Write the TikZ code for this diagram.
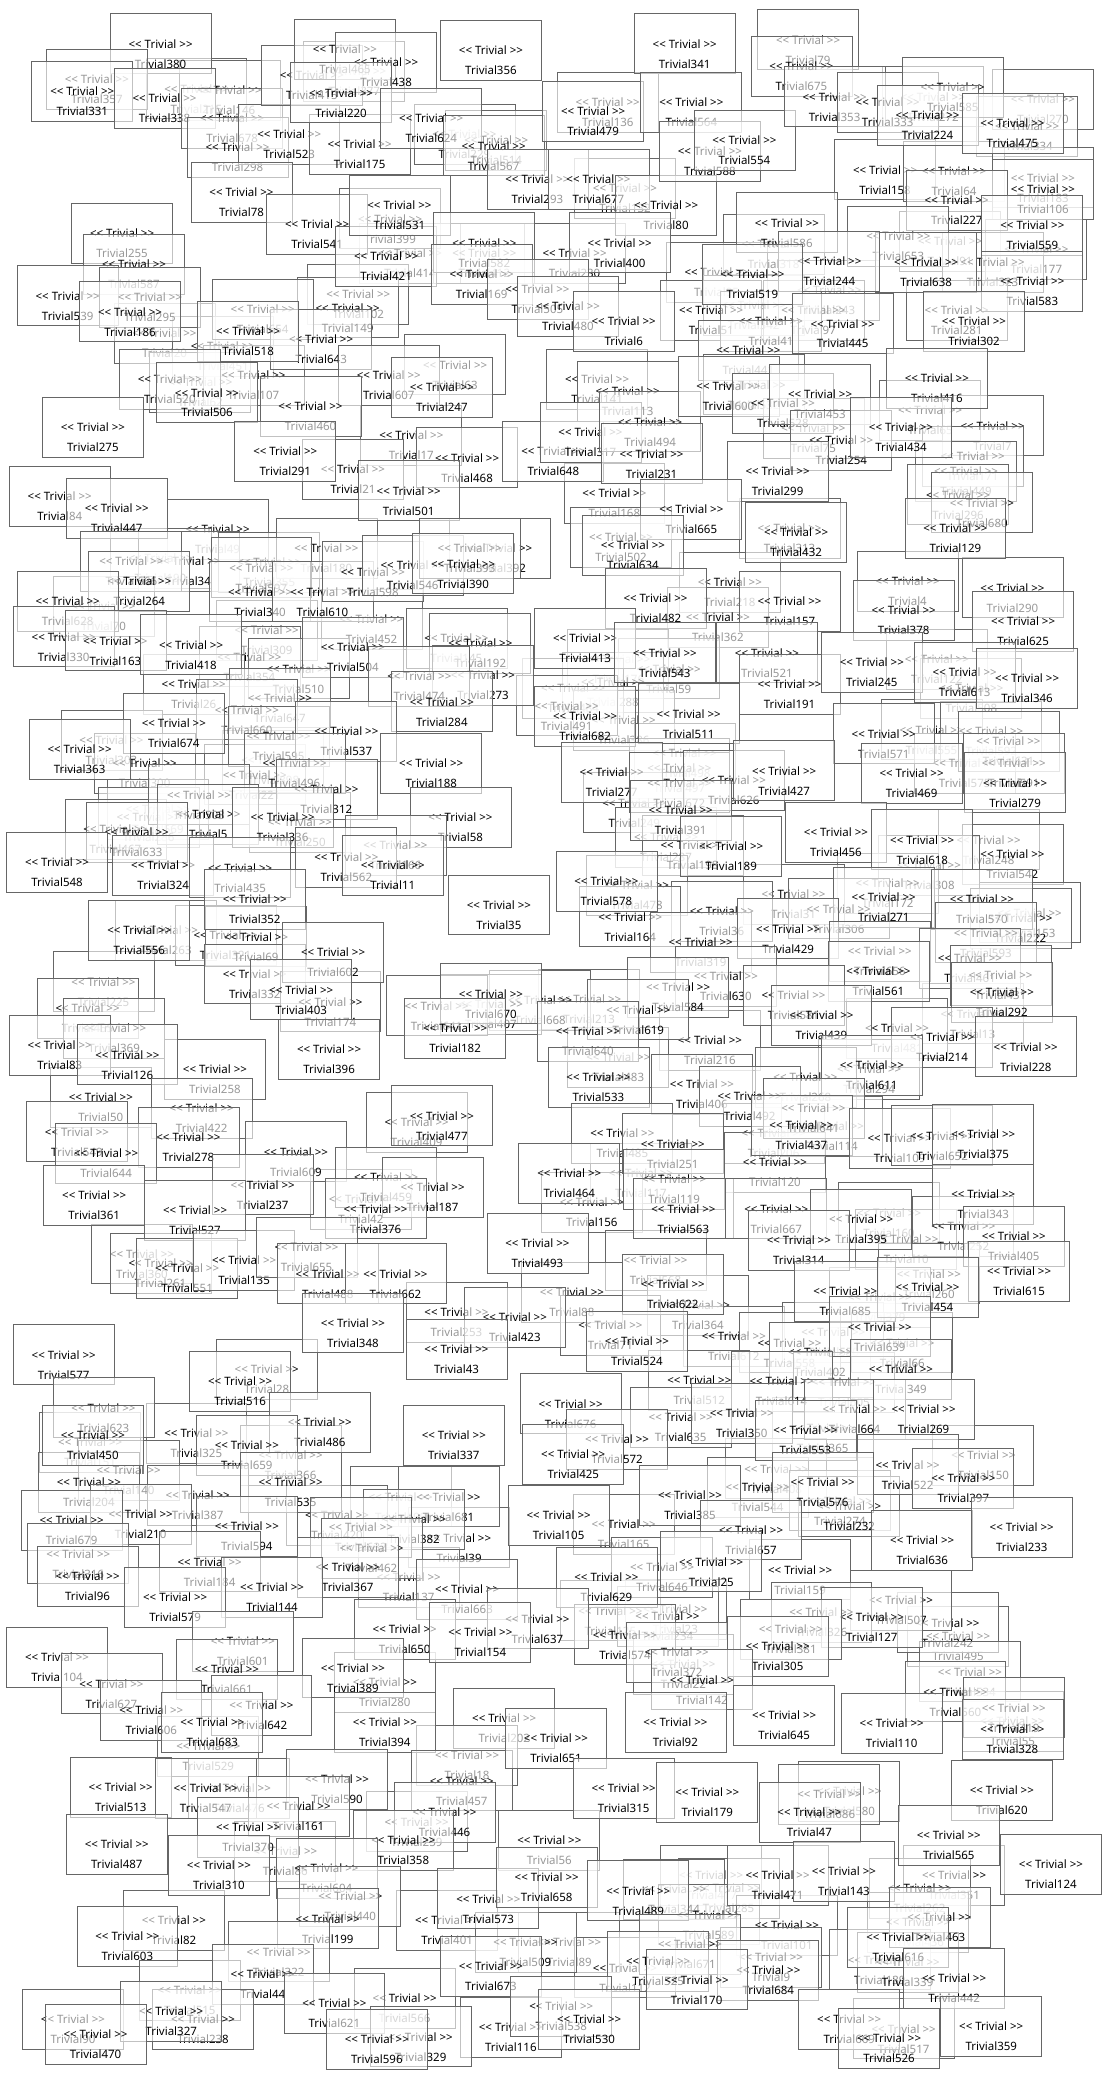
\documentclass[tikz,border=0pt]{standalone}
\usepackage{fontspec}
\newfontfamily\tfont{Noto Sans}
\begin{document}
\begin{tikzpicture}[x=1.3274pt,y=-1.3274pt,
  tbox/.style={draw=black!60, line width=0.8pt, fill=white, fill opacity=0.6,
    minimum width=101pt, minimum height=60pt, inner sep=0pt, yshift=20pt,
    label={[ttext]center:{\textless\textless{} Trivial \textgreater\textgreater}}},
  ttext/.style={font=\tfont\fontsize{11.5}{13}\selectfont, text=black, text opacity=1, inner sep=0pt}]
\useasboundingbox (0,0) rectangle (843,1566);
% boxes lying underneath
\foreach \n/\x/\y in {215/148/82, 146/173/83, 377/267/69, 255/92/191, 136/458/92, 79/609/45,
  272/703/88, 270/786/90, 334/774/110, 132/471/157, 158/667/143, 64/719/144, 183/786/149,
  106/786/158, 91/716/197, 177/781/203, 323/748/213, 281/721/249, 318/583/199, 414/309/206,
  230/433/206, 229/350/116, 514/374/121, 399/294/180, 412/365/206, 102/270/237, 95/540/220,
  342/568/245, 243/625/234, 51/536/249, 97/613/249, 41/581/257, 441/564/279, 141/450/301,
  532/568/305, 113/473/310, 65/701/324, 7/748/336, 75/613/338, 171/733/359, 449/728/370,
  296/722/388, 168/463/387, 502/468/420, 313/595/413, 218/550/454, 362/541/480, 4/684/453,
  290/763/458, 122/706/512, 176/466/512, 59/504/519, 288/462/529, 484/432/534, 508/732/534,
  386/470/558, 491/427/547, 149/262/247, 20/124/266, 451/168/276, 62/151/303, 107/191/298,
  63/343/290, 17/310/343, 468/352/360, 21/266/369, 49/164/414, 190/121/436, 34/142/438,
  355/203/439, 180/246/428, 392/377/428, 70/78/472, 309/201/490, 452/280/482, 354/188/510,
  510/225/519, 145/344/496, 192/362/500, 273/364/524, 26/146/531,
  303/84/573, 300/109/590, 398/206/588, 221/192/599, 569/119/625, 286/112/631, 250/226/635,
  467/87/640, 263/125/716, 321/170/720, 69/193/721, 332/192/749, 174/249/770, 225/78/755,
  258/162/821, 50/76/842, 409/314/861, 549/58/868,
  555/702/565, 592/747/566, 575/727/590, 498/516/583, 497/512/594, 249/478/620, 248/745/648,
  542/763/659, 287/502/646, 198/522/652, 308/700/667, 478/480/682, 172/669/681, 31/598/689,
  36/544/702, 164/475/706, 306/632/700, 153/776/703, 222/769/707, 319/528/725, 213/444/768,
  13/733/779, 481/676/790, 216/535/799, 483/466/812, 294/655/821, 268/607/827, 406/529/832,
  206/583/869, 114/627/864, 117/483/899, 120/584/891, 668/407/769, 407/370/772, 156/446/921,
  42/272/919, 360/107/960, 261/121/967, 253/344/1004, 28/201/1047, 325/148/1095,
  337/342/1097, 151/68/1102, 366/219/1112, 140/97/1123, 204/67/1132, 599/302/1143,
  420/254/1157, 39/346/1174, 137/308/1204,
  160/670/929, 10/683/949, 252/726/939, 568/494/965, 260/700/975, 88/431/989, 364/526/999,
  379/663/993, 71/460/1014, 612/553/1022, 550/628/1019, 558/595/1027, 402/618/1034,
  66/680/1027, 512/527/1055, 605/636/1057, 365/620/1091, 150/741/1112, 408/585/1122,
  544/571/1136, 274/633/1146, 232/640/1150, 165/470/1164, 159/603/1198, 23/509/1228,
  125/460/1229, 234/503/1233,
  495/722/1248, 242/714/1238, 22/515/1269, 534/731/1275, 55/763/1312, 580/640/1365,
  56/414/1402, 417/536/1428, 351/719/1428, 285/549/1438, 344/508/1439, 262/693/1438,
  589/534/1458, 436/692/1464, 101/593/1466, 89/429/1479, 9/581/1490, 139/663/1492,
  339/684/1494, 112/471/1498, 517/681/1544,
  280/290/1283, 202/380/1310, 529/157/1331, 476/180/1363, 18/352/1338, 259/314/1388,
  86/215/1410, 82/131/1462, 401/337/1462, 509/396/1479, 566/305/1521, 90/55/1537}
  \node[tbox, label={[ttext,yshift=-20pt]center:Trivial\n}] (t\n) at (\x,\y) {};
% boxes on top
\foreach \n/\x/\y in {380/121/48, 357/73/75, 331/62/84, 338/124/89, 678/175/104, 298/179/126,
  523/218/116, 175/271/124, 78/182/160, 541/239/184, 415/235/72, 465/260/52, 438/291/62,
  220/257/85, 587/101/214, 421/291/208, 356/370/53, 624/325/104, 567/372/125, 293/405/150,
  677/451/150, 80/502/170, 479/447/99, 341/516/48, 564/521/92, 588/535/129, 554/561/121,
  675/604/65, 353/629/88, 333/669/92, 585/718/81, 224/699/102, 475/763/108,
  531/301/170, 582/365/198, 400/467/198, 586/593/183, 227/721/166, 653/677/193, 559/778/185,
  638/698/213, 583/778/227, 244/625/212, 519/567/222, 169/363/222, 505/405/233, 480/428/246,
  6/470/257, 445/635/259, 302/734/257,
  539/51/238, 295/113/239, 186/98/250, 654/198/248, 643/242/271, 518/187/265, 520/128/301,
  506/156/311, 607/293/298, 247/333/307, 460/234/321, 275/70/337, 291/215/355, 501/308/385,
  648/417/355, 317/445/341, 494/490/333, 231/491/357, 600/549/306, 528/590/319, 453/618/312,
  254/634/347, 416/706/300, 434/679/337, 299/586/370, 665/521/399, 634/477/426, 432/600/416,
  680/740/394, 129/720/413,
  84/45/389, 447/88/398, 666/99/438, 264/105/453, 597/197/443, 340/196/461, 610/243/461,
  598/281/446, 546/311/441, 393/354/428, 390/349/440, 628/51/468, 330/48/495, 163/87/498,
  418/144/501, 504/266/503, 474/316/525, 482/494/466, 157/595/468, 378/681/475, 625/771/483,
  413/441/496, 543/501/507, 521/578/507, 191/595/531, 245/657/514, 613/727/522, 346/774/526,
  284/333/544, 682/441/555, 511/519/553, 647/211/541, 660/186/550, 674/131/560,
  363/60/580, 595/210/570, 537/261/566, 188/325/590, 496/222/590, 503/150/614, 312/246/610,
  5/157/629, 336/213/631, 58/347/631, 633/103/642, 166/298/652, 548/43/665, 324/123/667,
  435/181/669, 562/261/661, 11/296/667, 352/192/693, 35/376/697, 556/105/716, 602/251/733,
  403/227/761, 641/329/773, 670/370/764, 182/343/790, 396/248/806, 455/66/775, 369/86/790,
  83/45/803, 126/96/810, 422/152/850, 477/333/856, 278/142/872, 644/80/884, 609/223/883,
  571/666/568, 631/760/574, 591/764/590, 469/687/598, 279/765/605, 277/461/597, 672/512/605,
  626/553/603, 427/591/596, 391/513/626, 456/630/642, 618/695/648, 189/551/653, 578/457/679,
  271/666/691, 570/740/693, 429/594/715, 593/743/718, 656/663/732, 461/731/737, 561/662/747,
  630/547/751, 431/754/750, 584/511/759, 581/598/765, 619/481/776, 292/755/763, 439/619/780,
  640/443/792, 214/710/797, 228/773/804, 611/657/818, 533/451/827, 492/565/841, 641/613/850,
  437/604/863, 109/678/873, 652/710/871, 375/741/870, 485/469/869, 251/507/877, 464/429/899,
  119/508/904, 343/741/915,
  361/71/916, 237/198/908, 459/291/902, 187/326/910, 527/147/927, 376/283/926, 551/141/971,
  135/184/965, 655/231/955, 488/247/975, 662/298/975, 348/266/1012, 423/388/1008,
  43/344/1032, 493/405/952, 563/515/926, 667/585/926, 395/649/934, 314/602/950, 405/764/947,
  615/768/973, 622/507/983, 685/637/988, 454/699/985, 639/663/1015, 524/480/1026,
  349/679/1047, 614/589/1056, 676/430/1073, 635/513/1083, 350/559/1080, 664/644/1077,
  269/696/1077, 553/607/1093, 572/465/1100, 425/432/1111, 522/684/1119, 397/726/1129,
  576/620/1132, 385/520/1142, 105/421/1157, 636/695/1176, 233/770/1166, 657/566/1168,
  646/499/1196, 25/536/1192, 629/457/1204, 507/679/1221, 326/619/1230, 127/657/1234,
  381/596/1243, 574/471/1247,
  577/48/1036, 516/181/1056, 623/78/1076, 486/241/1087, 450/70/1097, 659/186/1104,
  387/149/1142, 535/219/1132, 681/338/1143, 210/106/1156, 679/54/1161, 594/186/1165,
  382/312/1160, 632/272/1166, 316/59/1186, 96/66/1203, 184/158/1192, 462/280/1182,
  367/262/1196, 144/205/1211, 579/132/1219, 663/352/1213,
  637/405/1235, 650/305/1243, 154/362/1245, 601/183/1252, 104/43/1264, 661/171/1273,
  389/266/1272, 627/84/1284, 642/197/1300, 606/114/1304, 394/290/1313, 683/160/1313,
  513/91/1362, 547/155/1363, 590/254/1356, 457/348/1357, 161/225/1376, 446/335/1381,
  370/187/1392, 487/88/1405, 358/304/1402, 310/165/1421, 604/246/1423, 573/368/1446,
  440/264/1444, 199/247/1461, 603/96/1474, 322/210/1486, 673/370/1497, 515/143/1515,
  44/198/1503, 238/153/1537, 327/129/1531, 621/252/1525, 470/72/1548, 116/385/1543,
  329/317/1550, 596/284/1552,
  372/510/1260, 305/586/1256, 142/529/1281, 560/720/1290, 419/764/1302, 328/763/1318,
  92/509/1313, 645/591/1308, 110/672/1314, 651/419/1325, 315/470/1363, 179/533/1366,
  686/625/1367, 47/610/1381, 620/755/1364, 565/715/1398, 124/792/1420, 658/412/1430,
  471/586/1428, 143/636/1425, 489/481/1440, 463/708/1460, 616/677/1475, 671/520/1480,
  525/496/1493, 684/579/1500, 442/719/1506, 170/525/1507, 538/423/1527, 530/444/1537,
  669/640/1537, 526/670/1551, 359/747/1542}
  \node[tbox, label={[ttext,yshift=-20pt]center:Trivial\n}] (t\n) at (\x,\y) {};
\end{tikzpicture}
\end{document}
